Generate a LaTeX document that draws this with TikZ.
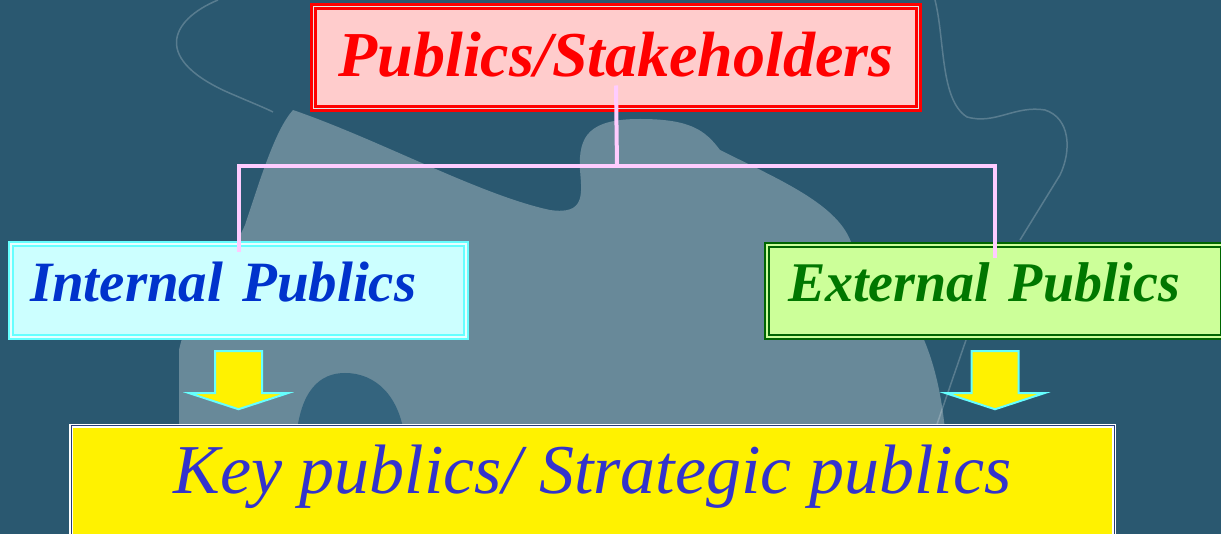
\documentclass[tikz,border=0pt]{standalone}
\usepackage{fontspec}
\setmainfont{Liberation Serif}
\definecolor{bgdark}{RGB}{42,88,112}
\definecolor{bglight}{RGB}{104,137,153}
\definecolor{bgnotch}{RGB}{52,100,126}
\definecolor{linkpink}{RGB}{255,204,255}
\definecolor{aqua}{RGB}{102,255,255}
\definecolor{leafgreen}{RGB}{0,102,0}
\tikzset{
	box/.style={inner sep=0pt, line width=2.5pt, double distance=1.5pt},
	topbox/.style={box, draw=red, double=white!80!gray, fill={rgb,255:red,255;green,204;blue,204},
		text=red, font=\fontsize{64}{64}\selectfont\bfseries\itshape,
		minimum width=605pt, minimum height=102pt, text height=44pt, text depth=5pt},
	intbox/.style={box, draw=aqua, double=white!85!aqua, fill={rgb,255:red,204;green,255;blue,255},
		text={rgb,255:red,0;green,51;blue,204}, font=\fontsize{57}{57}\selectfont\bfseries\itshape,
		minimum width=455pt, minimum height=93pt, text width=417pt, align=left,
		text height=39pt, text depth=16pt},
	extbox/.style={box, draw=leafgreen, double={rgb,255:red,204;green,255;blue,153}, fill={rgb,255:red,204;green,255;blue,153},
		text={rgb,255:red,0;green,119;blue,0}, font=\fontsize{56}{56}\selectfont\bfseries\itshape,
		minimum width=456pt, minimum height=92pt, text width=414pt, align=left,
		text height=39pt, text depth=17pt},
	keybox/.style={box, line width=1.8pt, double distance=1pt, draw=white, double={rgb,255:red,40;green,60;blue,120},
		fill=yellow, text={rgb,255:red,51;green,51;blue,204}, font=\fontsize{70}{70}\selectfont\itshape,
		minimum width=1043pt, minimum height=116pt, text height=48pt, text depth=30pt},
	link/.style={draw=linkpink, line width=4pt},
	glow/.style={white, opacity=0.22, line width=1.5pt},
	downarr/.pic={
		\draw[fill=yellow, draw=aqua, line width=2pt, line join=miter]
			(-23.5,0) -- (23.5,0) -- (23.5,42) -- (49,42) -- (0,58) -- (-49,42) -- (-23.5,42) -- cycle;
	}
}
\begin{document}
\begin{tikzpicture}[x=1pt,y=-1pt]
	\useasboundingbox (0,0) rectangle (1221,534);
	% background with the puzzle piece
	\fill[bgdark] (0,0) rectangle (1221,534);
	\fill[bglight] (293,110) .. controls (380,140) and (480,195) .. (550,210)
		.. controls (585,215) and (582,195) .. (580,170)
		.. controls (578,135) and (590,119) .. (640,119)
		.. controls (690,119) and (705,130) .. (720,150)
		.. controls (780,180) and (840,205) .. (852,245)
		.. controls (900,290) and (935,330) .. (945,430)
		-- (960,534) -- (179,534) -- (179,350)
		.. controls (190,300) and (230,260) .. (245,225)
		.. controls (260,180) and (275,130) .. (293,110) -- cycle;
	\fill[bgnotch] (296,440) .. controls (300,390) and (320,373) .. (345,373)
		.. controls (375,373) and (400,395) .. (405,440) -- cycle;
	\draw[glow] (218,0) .. controls (170,20) and (150,60) .. (234,95)
		.. controls (255,104) and (265,108) .. (273,112);
	\draw[glow] (935,0) .. controls (945,40) and (940,100) .. (967,117)
		.. controls (995,125) and (1015,105) .. (1045,110)
		.. controls (1070,118) and (1072,150) .. (1060,175) -- (1020,240);
	\draw[glow] (966,340) -- (935,430);
	% boxes
	\node[topbox] (top) at (616,57.5) {Publics/Stakeholders};
	\node[intbox] (int) at (238.5,290.5) {Internal Publics};
	\node[extbox] (ext) at (995,291) {External Publics};
	\node[keybox] (key) at (592.5,484) {Key publics/ Strategic publics};
	% tree lines
	\coordinate (hub) at (617,166);
	\draw[link] ([yshift=-28pt]top.center) -- (hub);
	\draw[link] ([yshift=-9pt]int.north) |- (hub) -| ([yshift=-14pt]ext.north);
	% arrows down to the key publics
	\pic at ([yshift=-13pt]int.south) {downarr};
	\pic at ([yshift=-13pt]ext.south) {downarr};
\end{tikzpicture}
\end{document}
